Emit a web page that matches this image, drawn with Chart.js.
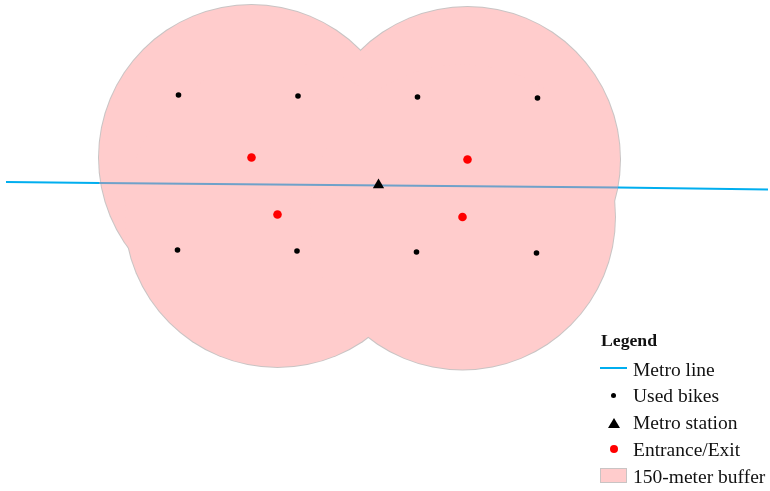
<!DOCTYPE html>
<html>
<head>
<meta charset="utf-8">
<title>150-meter buffer</title>
<script src="https://cdn.jsdelivr.net/npm/chart.js@4/dist/chart.umd.min.js"></script>
<style>
    html, body { margin: 0; padding: 0; background: #fff; }
    #wrap { position: relative; width: 770px; height: 491px; overflow: hidden; font-family: "Liberation Serif", serif; color: #111; }
    #myChart { position: absolute; left: 0; top: 0; }
    #legendTitle { position: absolute; left: 601px; top: 329px; font-size: 17.7px; line-height: 22px; font-weight: bold; }
    .legendLabel { position: absolute; left: 633px; font-size: 19.5px; line-height: 24px; white-space: nowrap; }
    .key { position: absolute; }
</style>
</head>
<body>
<div id="wrap">
    <canvas id="myChart" width="770" height="491"></canvas>
    <div id="legendTitle">Legend</div>
    <div class="key" style="left:600px;top:367px;width:27px;height:2px;background:#00AEEF"></div>
    <div class="key" style="left:611px;top:392.5px;width:5px;height:5px;border-radius:50%;background:#000"></div>
    <div class="key" style="left:608px;top:418px;width:0;height:0;border-left:6px solid transparent;border-right:6px solid transparent;border-bottom:10px solid #000"></div>
    <div class="key" style="left:610px;top:445px;width:8px;height:8px;border-radius:50%;background:#f00"></div>
    <div class="key" style="left:600px;top:468px;width:25px;height:13px;background:#FFCCCC;border:1px solid #c9c4c4"></div>
    <div id="legendRows"></div>
</div>
<script>
    const legendLabels = ['Metro line', 'Used bikes', 'Metro station', 'Entrance/Exit', '150-meter buffer'];

    // values, in image pixels
    const bikeX = [178.5, 298, 417.5, 537.5, 177.5, 297, 416.5, 536.5];
    const bikeY = [95, 96, 97, 98, 250, 251, 252, 253];
    const entranceX = [251.5, 467.5, 277.5, 462.5];
    const entranceY = [157.5, 159.5, 214.5, 217];
    const stationX = [378.5];
    const stationY = [185];
    const metroX = [6, 99, 618, 768];
    const metroY = [182, 182.9, 187.6, 189.6];

    const zip = (xs, ys) => xs.map((x, i) => ({ x: x, y: ys[i] }));

    const rowTops = [358, 384, 411, 438, 465];
    legendLabels.forEach(function (label, i) {
        const row = document.createElement('div');
        row.className = 'legendLabel';
        row.style.top = rowTops[i] + 'px';
        row.textContent = label;
        document.getElementById('legendRows').appendChild(row);
    });

    new Chart(document.getElementById('myChart'), {
        type: 'scatter',
        data: {
            datasets: [{
                label: 'Entrance/Exit',
                data: zip(entranceX, entranceY),
                pointRadius: 4.3,
                pointBackgroundColor: '#FF0000',
                pointBorderWidth: 0,
                order: 1
            }, {
                label: 'Metro station',
                data: zip(stationX, stationY),
                pointStyle: 'triangle',
                pointRadius: 6.5,
                pointBackgroundColor: '#000',
                pointBorderWidth: 0,
                order: 2
            }, {
                label: 'Used bikes',
                data: zip(bikeX, bikeY),
                pointRadius: 2.8,
                pointBackgroundColor: '#000',
                pointBorderWidth: 0,
                order: 3
            }, {
                label: 'Metro line',
                data: zip(metroX, metroY),
                showLine: true,
                pointRadius: 0,
                borderWidth: 2,
                borderColor: '#00AEEF',
                segment: {
                    borderColor: ctx => ctx.p0DataIndex === 1 ? '#6FA1C9' : '#00AEEF'
                },
                order: 4
            }, {
                label: '150-meter buffer',
                data: zip(entranceX, entranceY),
                pointRadius: 152.5,
                pointBackgroundColor: '#FFCCCC',
                pointBorderWidth: 0,
                clip: false,
                order: 5
            }, {
                label: 'buffer outline',
                data: zip(entranceX, entranceY),
                pointRadius: 153.5,
                pointBackgroundColor: '#C9C4C4',
                pointBorderWidth: 0,
                clip: false,
                order: 6
            }]
        },
        options: {
            responsive: false,
            animation: false,
            layout: { padding: 0, autoPadding: false },
            plugins: {
                legend: { display: false },
                tooltip: { enabled: false }
            },
            scales: {
                x: { type: 'linear', display: false, min: 0, max: 770 },
                y: { type: 'linear', display: false, min: 0, max: 491, reverse: true }
            }
        }
    });
</script>
</body>
</html>
